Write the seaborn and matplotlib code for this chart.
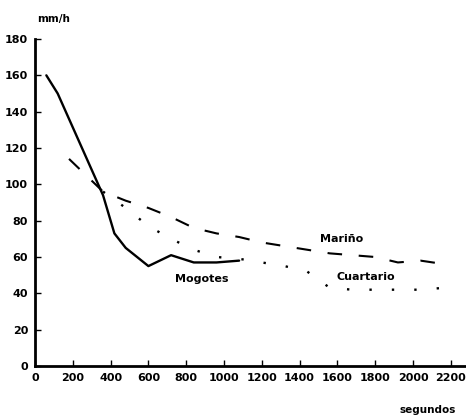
import matplotlib
matplotlib.use("Agg")
import matplotlib.pyplot as plt
import seaborn as sns

# values (seconds, mm/h)
mogotes_t = [60, 120, 240, 360, 420, 480, 600, 720, 840, 960, 1080]
mogotes_v = [160, 150, 122, 94, 73, 65, 55, 61, 57, 57, 58]

marino_t = [180, 360, 480, 600, 720, 840, 960, 1080, 1200, 1320, 1440, 1560, 1680, 1800, 1920, 2040, 2170]
marino_v = [114, 96, 91, 87, 82, 76, 73, 71, 68, 66, 64, 62, 61, 60, 57, 58, 56]

cuartario_t = [360, 480, 600, 720, 840, 960, 1080, 1200, 1320, 1440, 1560, 1680, 1800, 1920, 2040, 2160]
cuartario_v = [96, 87, 77, 70, 64, 60, 59, 57, 55, 52, 43, 42, 42, 42, 42, 43]

xticks = list(range(0, 2201, 200))
yticks = list(range(0, 181, 20))

sns.set_style("ticks", {"axes.edgecolor": "black", "text.color": "black",
                        "xtick.color": "black", "ytick.color": "black"})
plt.rcParams['font.family'] = ['DejaVu Sans']

fig = plt.figure(figsize=(4.66, 4.15), dpi=100)
ax = fig.add_axes([35/466, 49/415, 430/466, 327/415])

sns.lineplot(x=mogotes_t, y=mogotes_v, ax=ax, color="black", lw=1.7)
sns.lineplot(x=marino_t, y=marino_v, ax=ax, color="black", lw=1.5,
             linestyle=(0, (7, 8)))
sns.lineplot(x=cuartario_t, y=cuartario_v, ax=ax, color="black", lw=1.7,
             linestyle=(0, (1, 8.5)))

ax.set_xlim(0, 2275)
ax.set_ylim(0, 180)
ax.set_xticks(xticks)
ax.set_yticks(yticks)
ax.tick_params(direction="in", length=4, width=1, labelsize=8, pad=5,
               colors="black")
for lab in ax.get_xticklabels() + ax.get_yticklabels():
    lab.set_fontweight("bold")
sns.despine(ax=ax)
ax.spines["left"].set_linewidth(2)
ax.spines["bottom"].set_linewidth(2)

# series labels
ax.text(1620, 70, "Mariño", ha="center", va="center", fontsize=8, fontweight="bold", color="black")
ax.text(1750, 49, "Cuartario", ha="center", va="center", fontsize=8, fontweight="bold", color="black")
ax.text(880, 48, "Mogotes", ha="center", va="center", fontsize=8, fontweight="bold", color="black")

fig.text(54/466, 1 - 19/415, "mm/h", ha="center", va="center", fontsize=7.5, fontweight="bold", color="black")
fig.text(456/466, 1 - 410/415, "segundos", ha="right", va="center", fontsize=7.5, fontweight="bold", color="black")

plt.savefig("out.png", dpi=100)
